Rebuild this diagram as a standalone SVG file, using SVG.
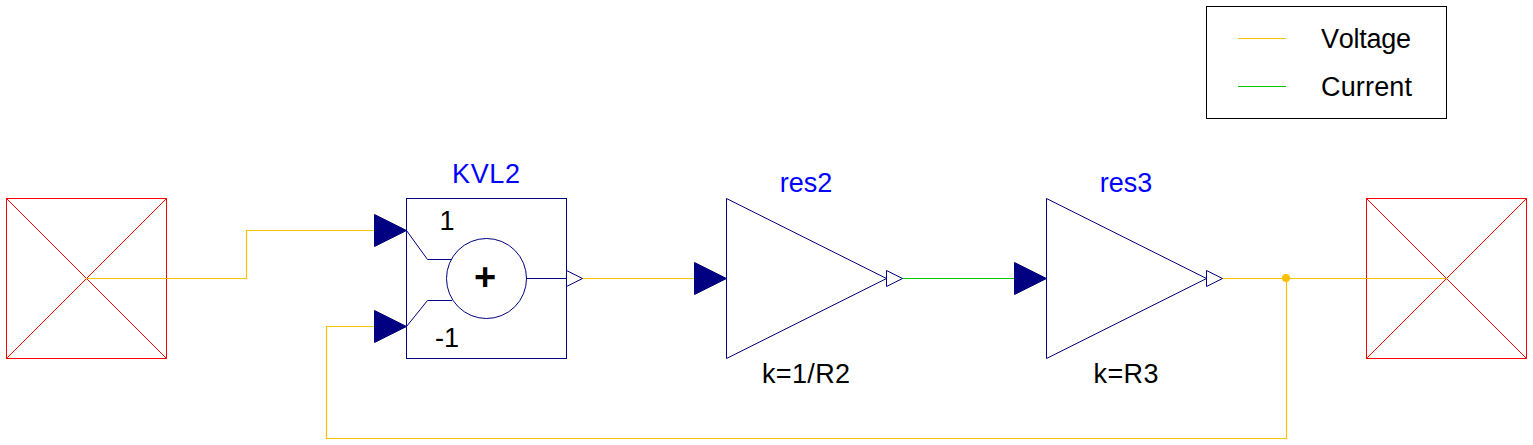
<svg xmlns="http://www.w3.org/2000/svg" width="1533" height="445" viewBox="0 0 1533 445">
<style>
text{font-family:"Liberation Sans",Arial,sans-serif;font-size:27px;fill:#000;font-kerning:none}
.name{fill:#00f;text-anchor:middle}
.mid{text-anchor:middle}
.blk{fill:#fff;stroke:#000080;stroke-width:1}
.thin{fill:none;stroke:#000080;stroke-width:1}
.in{fill:#000080;stroke:#000080;stroke-width:1}
.term{fill:#fff;stroke:#f00;stroke-width:1}
.w{fill:none;stroke-width:1.2}
.v{stroke:#ffc000}
.c{stroke:#00c800}
</style>
<rect width="1533" height="445" fill="#fff"/>
<g id="source">
<rect class="term" x="6.5" y="198.5" width="160" height="160"/>
<path class="term" d="M6.5 198.5L166.5 358.5M166.5 198.5L6.5 358.5"/>
</g>
<g id="sink">
<rect class="term" x="1366.5" y="198.5" width="160" height="160"/>
<path class="term" d="M1366.5 198.5L1526.5 358.5M1526.5 198.5L1366.5 358.5"/>
</g>
<g id="connectors">
<path class="w v" d="M86.5 278.5H246.5V230.5H374"/>
<path class="w v" d="M582.5 278.5H694"/>
<path class="w c" d="M902.5 278.5H1014"/>
<path class="w v" d="M1222.5 278.5H1446.5"/>
<path class="w v" d="M1286.5 278.5V438.5H326.5V326.5H374"/>
<circle cx="1286" cy="278" r="4" fill="#ffc000"/>
</g>
<g id="KVL2">
<rect class="blk" x="406.5" y="198.5" width="160" height="160"/>
<path class="in" d="M374.5 214.5L406.5 230.5L374.5 246.5Z"/>
<path class="in" d="M374.5 310.5L406.5 326.5L374.5 342.5Z"/>
<path class="thin" d="M406.5 230.5L427.5 259.5H452M406.5 326.5L427.5 300.5H452M526.5 278.5H566.5"/>
<circle class="thin" cx="486.5" cy="278.5" r="40"/>
<path class="blk" d="M566.5 270.5L582.5 278.5L566.5 286.5Z"/>
<text class="mid" x="485" y="290" style="font-size:38px;font-weight:bold">+</text>
<text class="mid" x="447" y="230">1</text>
<text class="mid" x="447" y="347">-1</text>
<text class="name" x="486" y="183" textLength="68">KVL2</text>
</g>
<g id="res2">
<path class="blk" d="M726.5 198.5L886.5 278.5L726.5 358.5Z"/>
<path class="in" d="M694.5 262.5L726.5 278.5L694.5 294.5Z"/>
<path class="blk" d="M886.5 270.5L902.5 278.5L886.5 286.5Z"/>
<text class="name" x="806" y="192">res2</text>
<text class="mid" x="806" y="383" textLength="88">k=1/R2</text>
</g>
<g id="res3">
<path class="blk" d="M1046.5 198.5L1206.5 278.5L1046.5 358.5Z"/>
<path class="in" d="M1014.5 262.5L1046.5 278.5L1014.5 294.5Z"/>
<path class="blk" d="M1206.5 270.5L1222.5 278.5L1206.5 286.5Z"/>
<text class="name" x="1126" y="192">res3</text>
<text class="mid" x="1126" y="383" textLength="65">k=R3</text>
</g>
<g id="legend">
<rect x="1206.5" y="6.5" width="240" height="112" fill="#fff" stroke="#000" stroke-width="1"/>
<path class="w v" d="M1238 38.5H1286"/>
<path class="w c" d="M1238 86.5H1286"/>
<text x="1321" y="48" textLength="90">Voltage</text>
<text x="1321" y="96" textLength="91">Current</text>
</g>
</svg>
